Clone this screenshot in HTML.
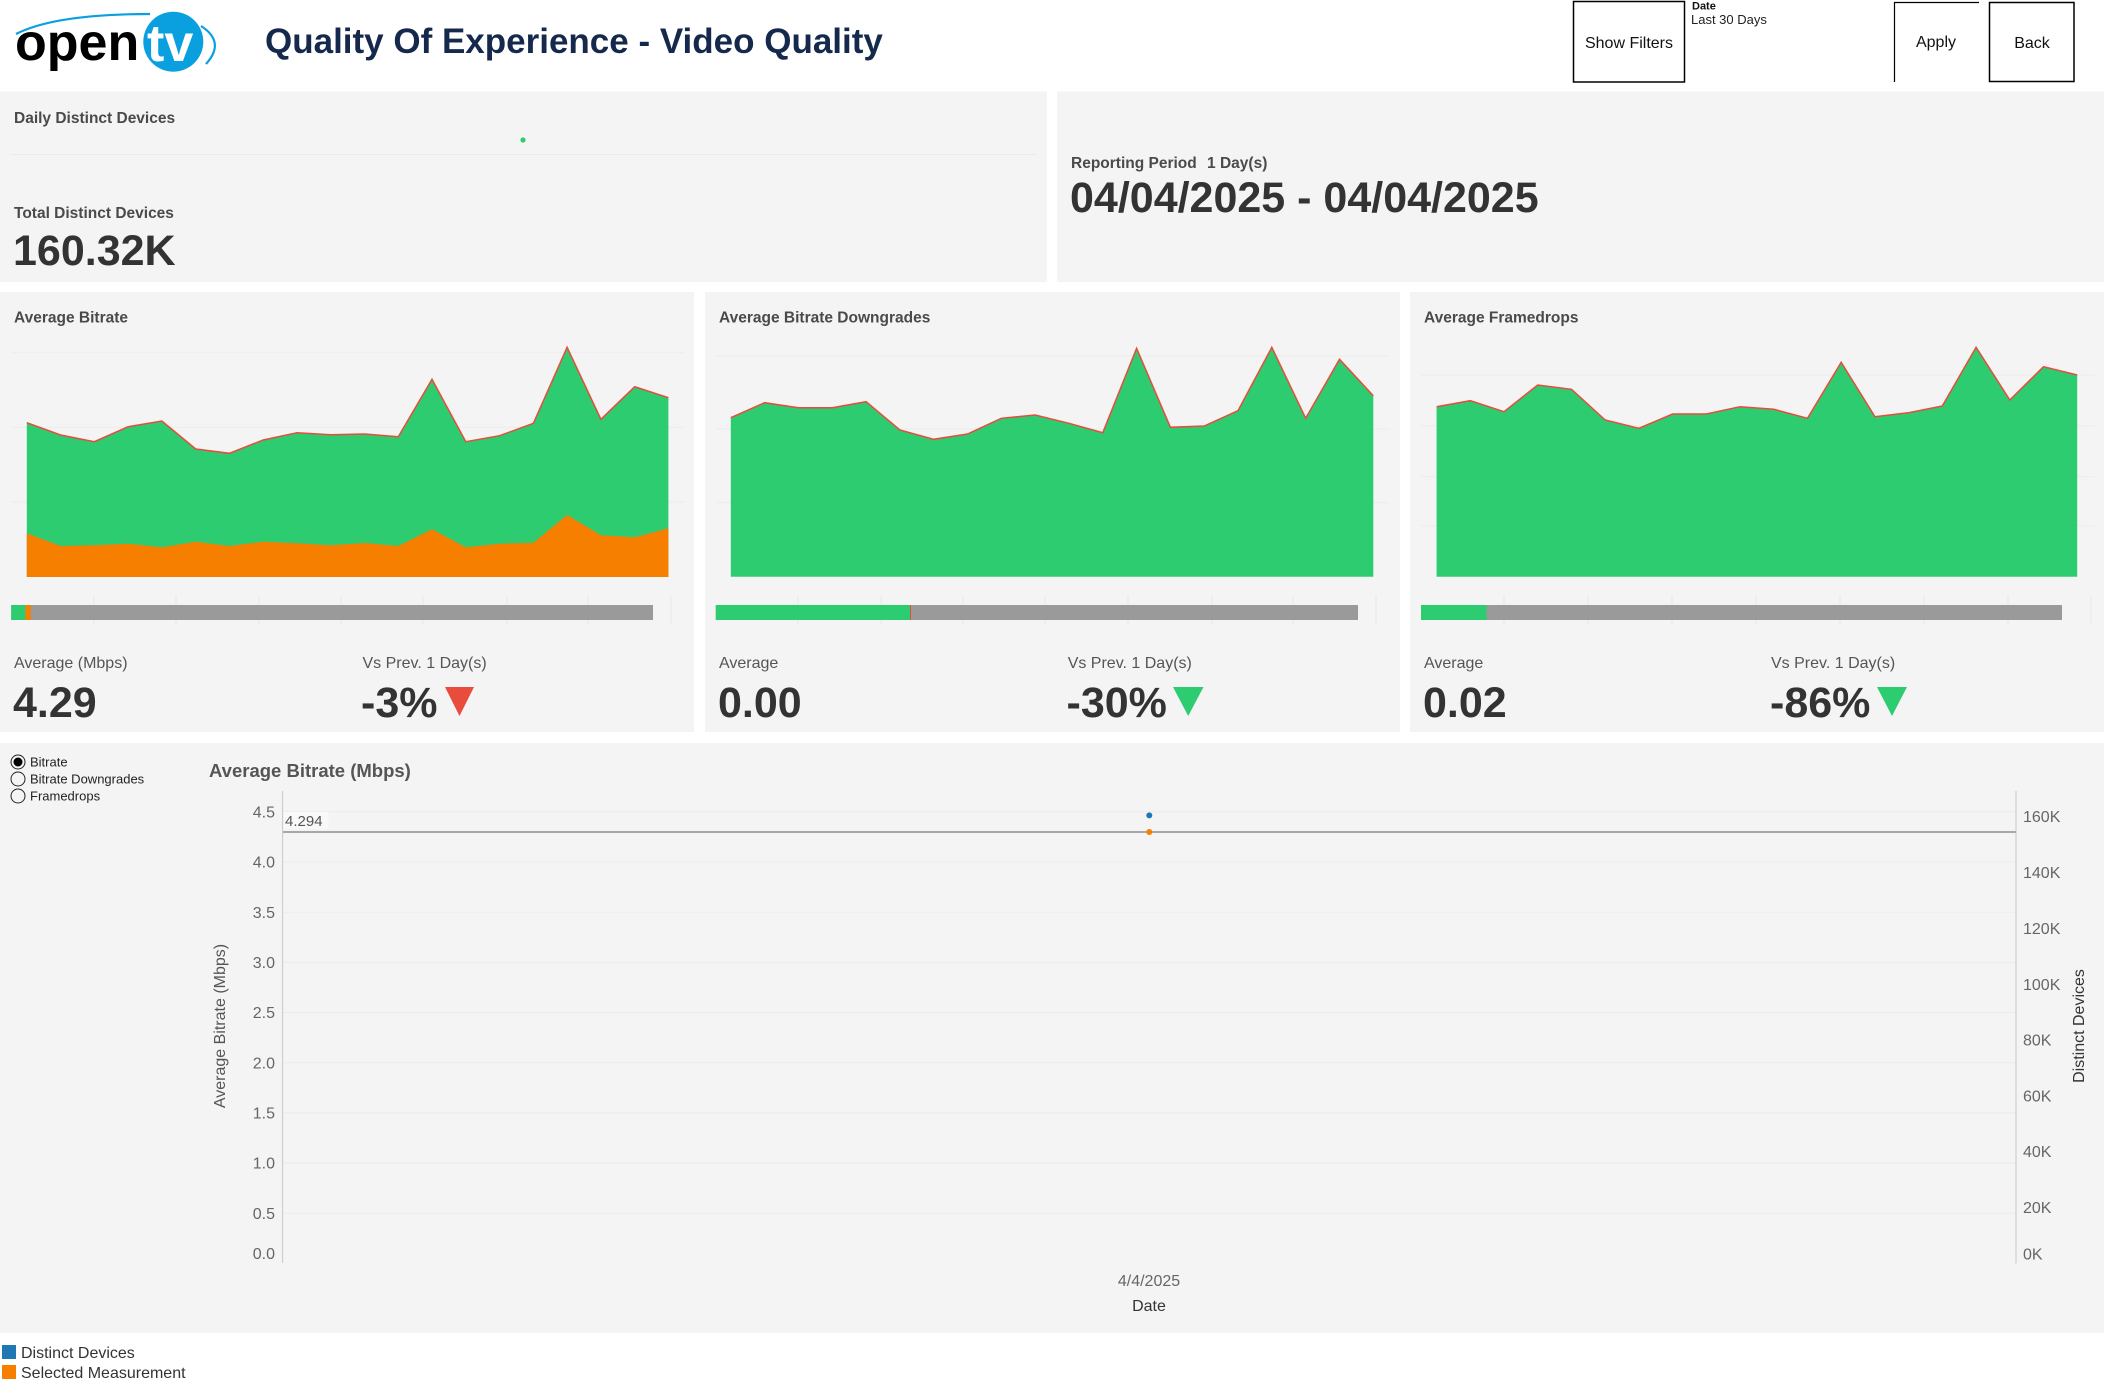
<!DOCTYPE html>
<html><head><meta charset="utf-8"><style>
html,body{margin:0;padding:0;background:#fff;}
svg{display:block;font-family:"Liberation Sans",Arial,sans-serif;}
</style></head><body>
<svg width="2104" height="1379" viewBox="0 0 2104 1379" xmlns="http://www.w3.org/2000/svg">
<rect x="0" y="0" width="2104" height="1379" fill="#ffffff"/>

<!-- Logo -->
<path d="M16,34 Q55,14 150,14" fill="none" stroke="#0aa0e0" stroke-width="2.2"/>
<path d="M201,26 Q226,42 206,64" fill="none" stroke="#0aa0e0" stroke-width="2.2"/>
<text x="15" y="60" font-size="52" font-weight="bold" fill="#000">open</text>
<circle cx="173.3" cy="41.7" r="30" fill="#0aa0e0"/>
<text x="147" y="61" font-size="52" font-weight="bold" fill="#fff">tv</text>

<!-- Title -->
<text x="265" y="53" font-size="35" font-weight="bold" fill="#15294d">Quality Of Experience - Video Quality</text>

<!-- Header buttons -->
<rect x="1573.5" y="1.5" width="111" height="80.5" fill="none" stroke="#000" stroke-width="1.5"/>
<text x="1629" y="48" font-size="16" text-anchor="middle" fill="#111">Show Filters</text>
<text x="1692" y="9.5" font-size="11" font-weight="bold" fill="#111">Date</text>
<text x="1691" y="24" font-size="13" fill="#222">Last 30 Days</text>
<path d="M1894.5,82 L1894.5,2.5 L1979,2.5" fill="none" stroke="#000" stroke-width="1.2"/>
<text x="1936" y="47" font-size="16" text-anchor="middle" fill="#111">Apply</text>
<rect x="1989.5" y="2.5" width="84.5" height="79" fill="none" stroke="#000" stroke-width="1.5"/>
<text x="2032" y="48" font-size="16" text-anchor="middle" fill="#111">Back</text>

<!-- Row 1 panels -->
<rect x="0" y="91.5" width="1047" height="190.5" fill="#f4f4f4"/>
<rect x="1057" y="91.5" width="1047" height="190.5" fill="#f4f4f4"/>
<text x="14" y="123" font-size="15.5" font-weight="bold" fill="#4a4a4a">Daily Distinct Devices</text>
<circle cx="523" cy="140" r="2.6" fill="#2ecc71"/>
<line x1="10" y1="154.5" x2="1037" y2="154.5" stroke="#ebebeb" stroke-width="1"/>
<text x="14" y="218" font-size="15.5" font-weight="bold" fill="#4a4a4a">Total Distinct Devices</text>
<text x="13" y="265" font-size="43" font-weight="bold" fill="#333">160.32K</text>
<text x="1071" y="168" font-size="15.5" font-weight="bold" fill="#4a4a4a">Reporting Period <tspan dx="6">1 Day(s)</tspan></text>
<text x="1070" y="212" font-size="43" font-weight="bold" fill="#333">04/04/2025 - 04/04/2025</text>

<!-- Row 2 panels -->
<rect x="0" y="292" width="694" height="440" fill="#f4f4f4"/>
<rect x="705" y="292" width="695" height="440" fill="#f4f4f4"/>
<rect x="1410" y="292" width="694" height="440" fill="#f4f4f4"/>

<!-- Panel 1 -->
<text x="14" y="322.7" font-size="15.5" font-weight="bold" fill="#4a4a4a">Average Bitrate</text>
<g stroke="#ebebeb" stroke-width="1">
<line x1="11" y1="352.3" x2="685" y2="352.3"/><line x1="11" y1="427.3" x2="685" y2="427.3"/><line x1="11" y1="502" x2="685" y2="502"/>
</g>
<polygon fill="#2ecc71" points="26.8,577 26.8,422.7 60.6,435 94.3,441.7 128.1,426.7 161.9,421 195.7,449 229.4,453.3 263.2,440 297.0,432.7 330.7,434.7 364.5,434 398.3,436.7 432.0,379.3 465.8,441.7 499.6,435.7 533.4,423.3 567.1,347.3 600.9,419.3 634.7,386.7 668.4,397.7 668.4,577"/>
<polygon fill="#f77f00" points="26.8,577 26.8,533.3 60.6,546 94.3,545.3 128.1,543.7 161.9,547.3 195.7,541.7 229.4,546 263.2,541.7 297.0,543.3 330.7,545.3 364.5,543 398.3,546 432.0,529.3 465.8,547.3 499.6,543.7 533.4,542.7 567.1,515 600.9,535.3 634.7,537.3 668.4,528.3 668.4,577"/>
<polyline fill="none" stroke="#e74c3c" stroke-width="1.5" points="26.8,422.7 60.6,435 94.3,441.7 128.1,426.7 161.9,421 195.7,449 229.4,453.3 263.2,440 297.0,432.7 330.7,434.7 364.5,434 398.3,436.7 432.0,379.3 465.8,441.7 499.6,435.7 533.4,423.3 567.1,347.3 600.9,419.3 634.7,386.7 668.4,397.7"/>
<g stroke="#e9e9e9" stroke-width="1">
<line x1="93.8" y1="596" x2="93.8" y2="625"/><line x1="176" y1="596" x2="176" y2="625"/><line x1="259" y1="596" x2="259" y2="625"/><line x1="341" y1="596" x2="341" y2="625"/><line x1="423" y1="596" x2="423" y2="625"/><line x1="507" y1="596" x2="507" y2="625"/><line x1="588" y1="596" x2="588" y2="625"/><line x1="671" y1="596" x2="671" y2="625"/>
</g>
<rect x="11.2" y="605" width="641.8" height="15" fill="#9a9a9a"/>
<rect x="11.2" y="605" width="14.2" height="15" fill="#2ecc71"/>
<rect x="25.4" y="605" width="5.4" height="15" fill="#f77f00"/>
<text x="14" y="668" font-size="16" fill="#555">Average (Mbps)</text>
<text x="362.5" y="668" font-size="16" fill="#555">Vs Prev. 1 Day(s)</text>
<text x="13" y="717" font-size="43" font-weight="bold" fill="#333">4.29</text>
<text x="361" y="717" font-size="43" font-weight="bold" fill="#333">-3%</text>
<polygon points="445,687 474,687 459.5,716" fill="#e74c3c"/>

<!-- Panel 2 -->
<text x="719" y="322.7" font-size="15.5" font-weight="bold" fill="#4a4a4a">Average Bitrate Downgrades</text>
<g stroke="#ebebeb" stroke-width="1">
<line x1="716" y1="356" x2="1390" y2="356"/><line x1="716" y1="429" x2="1390" y2="429"/><line x1="716" y1="502.7" x2="1390" y2="502.7"/>
</g>
<polygon fill="#2ecc71" points="730.8,576.7 730.8,417.7 764.6,402.7 798.4,407.7 832.2,407.7 866.1,401.7 899.9,430 933.7,439.3 967.5,434 1001.3,418.3 1035.1,415 1069.0,423.3 1102.8,432.7 1136.6,348.3 1170.4,427.3 1204.2,426 1238.0,410.7 1271.8,347.3 1305.7,418.3 1339.5,359.3 1373.3,395.7 1373.3,576.7"/>
<polyline fill="none" stroke="#e74c3c" stroke-width="1.5" points="730.8,417.7 764.6,402.7 798.4,407.7 832.2,407.7 866.1,401.7 899.9,430 933.7,439.3 967.5,434 1001.3,418.3 1035.1,415 1069.0,423.3 1102.8,432.7 1136.6,348.3 1170.4,427.3 1204.2,426 1238.0,410.7 1271.8,347.3 1305.7,418.3 1339.5,359.3 1373.3,395.7"/>
<g stroke="#e9e9e9" stroke-width="1">
<line x1="798" y1="596" x2="798" y2="625"/><line x1="881" y1="596" x2="881" y2="625"/><line x1="963" y1="596" x2="963" y2="625"/><line x1="1045" y1="596" x2="1045" y2="625"/><line x1="1128" y1="596" x2="1128" y2="625"/><line x1="1212" y1="596" x2="1212" y2="625"/><line x1="1293" y1="596" x2="1293" y2="625"/><line x1="1376" y1="596" x2="1376" y2="625"/>
</g>
<rect x="715.8" y="605" width="642.2" height="15" fill="#9a9a9a"/>
<rect x="715.8" y="605" width="194.7" height="15" fill="#2ecc71"/>
<rect x="910" y="605" width="1" height="15" fill="#e74c3c"/>
<text x="719" y="668" font-size="16" fill="#555">Average</text>
<text x="1067.7" y="668" font-size="16" fill="#555">Vs Prev. 1 Day(s)</text>
<text x="718" y="717" font-size="43" font-weight="bold" fill="#333">0.00</text>
<text x="1066.5" y="717" font-size="43" font-weight="bold" fill="#333">-30%</text>
<polygon points="1173,687 1203.5,687 1188.2,716" fill="#2ecc71"/>

<!-- Panel 3 -->
<text x="1424" y="322.7" font-size="15.5" font-weight="bold" fill="#4a4a4a">Average Framedrops</text>
<g stroke="#ebebeb" stroke-width="1">
<line x1="1421" y1="375" x2="2095" y2="375"/><line x1="1421" y1="425.7" x2="2095" y2="425.7"/><line x1="1421" y1="476.7" x2="2095" y2="476.7"/><line x1="1421" y1="525.7" x2="2095" y2="525.7"/>
</g>
<polygon fill="#2ecc71" points="1436.6,576.7 1436.6,406.7 1470.3,400.7 1504.0,411.7 1537.7,385 1571.5,389.3 1605.2,420 1638.9,428.3 1672.6,414 1706.3,414 1740.0,406.7 1773.8,409.3 1807.5,418.3 1841.2,362.3 1874.9,416.7 1908.6,412.7 1942.3,406 1976.1,347.3 2009.8,400 2043.5,366.7 2077.2,375 2077.2,576.7"/>
<polyline fill="none" stroke="#e74c3c" stroke-width="1.5" points="1436.6,406.7 1470.3,400.7 1504.0,411.7 1537.7,385 1571.5,389.3 1605.2,420 1638.9,428.3 1672.6,414 1706.3,414 1740.0,406.7 1773.8,409.3 1807.5,418.3 1841.2,362.3 1874.9,416.7 1908.6,412.7 1942.3,406 1976.1,347.3 2009.8,400 2043.5,366.7 2077.2,375"/>
<g stroke="#e9e9e9" stroke-width="1">
<line x1="1504" y1="596" x2="1504" y2="625"/><line x1="1588" y1="596" x2="1588" y2="625"/><line x1="1672" y1="596" x2="1672" y2="625"/><line x1="1756" y1="596" x2="1756" y2="625"/><line x1="1840" y1="596" x2="1840" y2="625"/><line x1="1924" y1="596" x2="1924" y2="625"/><line x1="2008" y1="596" x2="2008" y2="625"/><line x1="2091" y1="596" x2="2091" y2="625"/>
</g>
<rect x="1421" y="605" width="641" height="15" fill="#9a9a9a"/>
<rect x="1421" y="605" width="65.6" height="15" fill="#2ecc71"/>
<text x="1424" y="668" font-size="16" fill="#555">Average</text>
<text x="1771" y="668" font-size="16" fill="#555">Vs Prev. 1 Day(s)</text>
<text x="1423" y="717" font-size="43" font-weight="bold" fill="#333">0.02</text>
<text x="1770" y="717" font-size="43" font-weight="bold" fill="#333">-86%</text>
<polygon points="1877,687 1907,687 1892,716" fill="#2ecc71"/>

<!-- Bottom panel -->
<rect x="0" y="743" width="2104" height="590" fill="#f4f4f4"/>
<circle cx="18" cy="762" r="7" fill="none" stroke="#222" stroke-width="1"/>
<circle cx="18" cy="762" r="4.5" fill="#000"/>
<circle cx="18" cy="779" r="7" fill="none" stroke="#222" stroke-width="1"/>
<circle cx="18" cy="796" r="7" fill="none" stroke="#222" stroke-width="1"/>
<text x="30" y="766.5" font-size="13" fill="#222">Bitrate</text>
<text x="30" y="783.5" font-size="13" fill="#222">Bitrate Downgrades</text>
<text x="30" y="800.5" font-size="13" fill="#222">Framedrops</text>

<text x="209" y="777" font-size="18.5" font-weight="bold" fill="#555">Average Bitrate (Mbps)</text>

<g stroke="#ebebeb" stroke-width="1">
<line x1="283" y1="811.7" x2="2016" y2="811.7"/>
<line x1="283" y1="862" x2="2016" y2="862"/>
<line x1="283" y1="912.2" x2="2016" y2="912.2"/>
<line x1="283" y1="962.4" x2="2016" y2="962.4"/>
<line x1="283" y1="1012.6" x2="2016" y2="1012.6"/>
<line x1="283" y1="1062.8" x2="2016" y2="1062.8"/>
<line x1="283" y1="1112.9" x2="2016" y2="1112.9"/>
<line x1="283" y1="1163.1" x2="2016" y2="1163.1"/>
<line x1="283" y1="1213.3" x2="2016" y2="1213.3"/>
</g>
<line x1="282.6" y1="791" x2="282.6" y2="1263" stroke="#c8c8c8" stroke-width="1"/>
<line x1="2016" y1="791" x2="2016" y2="1263.6" stroke="#c8c8c8" stroke-width="1"/>

<g font-size="16" fill="#666" text-anchor="end">
<text x="275" y="817.3">4.5</text>
<text x="275" y="867.6">4.0</text>
<text x="275" y="917.8">3.5</text>
<text x="275" y="968">3.0</text>
<text x="275" y="1018.2">2.5</text>
<text x="275" y="1068.4">2.0</text>
<text x="275" y="1118.5">1.5</text>
<text x="275" y="1168.7">1.0</text>
<text x="275" y="1218.9">0.5</text>
<text x="275" y="1259">0.0</text>
</g>
<g font-size="16" fill="#666">
<text x="2023" y="822">160K</text>
<text x="2023" y="878">140K</text>
<text x="2023" y="934">120K</text>
<text x="2023" y="990">100K</text>
<text x="2023" y="1045.5">80K</text>
<text x="2023" y="1101.5">60K</text>
<text x="2023" y="1157">40K</text>
<text x="2023" y="1213">20K</text>
<text x="2023" y="1259.5">0K</text>
</g>

<text transform="translate(225,1026) rotate(-90)" font-size="16" fill="#555" text-anchor="middle">Average Bitrate (Mbps)</text>
<text transform="translate(2084,1026) rotate(-90)" font-size="16" fill="#333" text-anchor="middle">Distinct Devices</text>

<line x1="283" y1="832" x2="2016" y2="832" stroke="#a8a8a8" stroke-width="2"/>
<rect x="283.5" y="812" width="45" height="17" fill="#f9f9f9"/>
<text x="285" y="826" font-size="15" fill="#555">4.294</text>

<circle cx="1149.3" cy="815.4" r="3" fill="#1f77b4"/>
<circle cx="1149.3" cy="832" r="3" fill="#f77f00"/>

<text x="1149" y="1286" font-size="16" fill="#666" text-anchor="middle">4/4/2025</text>
<text x="1149" y="1311" font-size="16" fill="#333" text-anchor="middle">Date</text>

<!-- Legend -->
<rect x="2" y="1345" width="14" height="14" fill="#1f77b4"/>
<text x="21" y="1358" font-size="16" fill="#333">Distinct Devices</text>
<rect x="2" y="1365" width="14" height="14" fill="#f77f00"/>
<text x="21" y="1378" font-size="16" fill="#333">Selected Measurement</text>
</svg>
</body></html>
